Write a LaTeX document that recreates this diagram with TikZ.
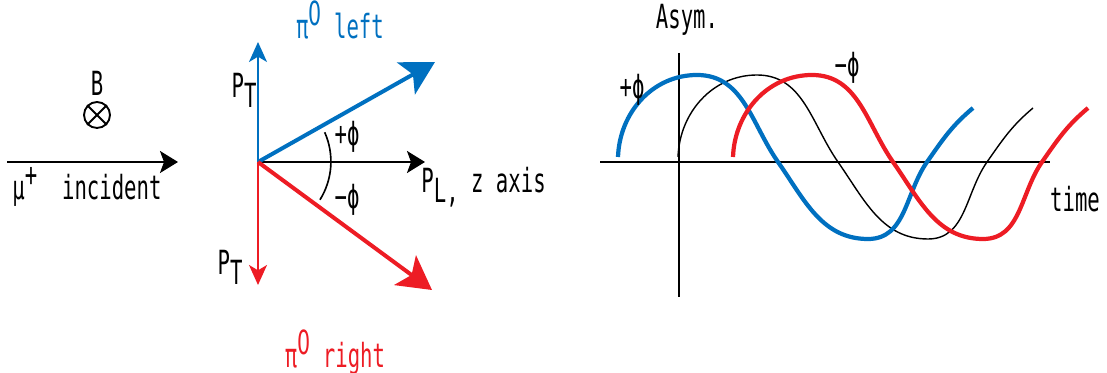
\documentclass[tikz,border=0pt]{standalone}
\usepackage{fontspec}
\setmainfont[FakeStretch=0.62]{DejaVu Sans Mono}
\newfontfamily\digitfont[FakeStretch=0.62]{DejaVu Sans}
\usepackage{xcolor}
\usepackage{tikz}
\usetikzlibrary{arrows.meta}
\definecolor{pileftblue}{RGB}{0, 112, 192}
\definecolor{pirightred}{RGB}{237, 28, 36}
\newcommand{\upr}[1]{\raisebox{0.7ex}{#1}}
\newcommand{\lowr}[1]{\raisebox{-0.55ex}{#1}}
\tikzstyle{lbl} = [inner sep=0pt, font=\fontsize{14.2}{17}\selectfont]
\tikzstyle{fatarrow} = [line width=1.7pt, -{Stealth[length=0.5cm, width=0.55cm, inset=0.12cm]}]
\tikzstyle{thinarrow} = [line width=0.7pt, -{Stealth[length=0.3cm, width=0.27cm, inset=0.08cm]}]
\tikzstyle{axisarrow} = [line width=0.9pt, -{Stealth[length=0.27cm, width=0.33cm, inset=0.06cm]}]
\tikzstyle{wave} = [line width=1.8pt]
\newcommand{\asymwave}[2]{%
  \draw[#1, shift={(#2,211)}] (0,5) to[out=88, in=180] (79,87) to[out=0, in=125] (160,0)
    to[out=-55, in=180] (250,-77) to[out=0, in=235] (309,0) to[out=55, in=220] (355,54);}
\begin{document}
\begin{tikzpicture}[x=0.015cm, y=0.015cm]
    \useasboundingbox (0,0) rectangle (1107,373);

    % Incident muon and field
    \node[lbl] (field) at (97,290) {B};
    \node[circle, draw, line width=0.8pt, minimum size=0.39cm, inner sep=0pt] (bcirc) at (97,258) {};
    \draw[line width=0.8pt] (bcirc.north west) -- (bcirc.south east);
    \draw[line width=0.8pt] (bcirc.north east) -- (bcirc.south west);
    \coordinate (mustart) at (7,211);
    \coordinate (muend) at (178,211);
    \draw[axisarrow] (mustart) -- (muend);
    \node[lbl, anchor=west] (incident) at (12,186) {μ\upr{+}~~incident};

    % Decay momenta
    \coordinate (O) at (258,211);
    \coordinate (ptup) at (258,331);
    \coordinate (ptdown) at (258,88);
    \coordinate (leftend) at (435,311);
    \coordinate (rightend) at (432,83);
    \coordinate (zend) at (425,211);
    \draw[thinarrow, pileftblue] (O) -- (ptup);
    \draw[thinarrow, pirightred] (O) -- (ptdown);
    \draw[axisarrow] (O) -- (zend);
    \draw[fatarrow, pileftblue] (O) -- (leftend);
    \draw[fatarrow, pirightred] (O) -- (rightend);
    \draw[line width=0.7pt] (O) ++(24:73) arc[start angle=24, end angle=-32, radius=72];

    \node[lbl, pileftblue] (pileft) at (340,353) {π\upr{\digitfont 0} left};
    \node[lbl, pirightred] (piright) at (335,21) {π\upr{\digitfont 0} right};
    \node[lbl] (ptuplabel) at (244,283) {P\lowr{T}};
    \node[lbl] (ptdownlabel) at (230,106) {P\lowr{T}};
    \node[lbl, anchor=west] (plz) at (421,186) {P\lowr{L,}~z axis};
    \node[lbl] (plusphi) at (347,236) {+ϕ};
    \node[lbl] (minusphi) at (347,173) {−ϕ};

    % Asymmetry versus time
    \coordinate (tstart) at (600,211);
    \coordinate (tend) at (1050,211);
    \coordinate (atop) at (679,320);
    \coordinate (abottom) at (679,76);
    \draw[line width=1pt] (tstart) -- (tend);
    \draw[line width=1pt] (atop) -- (abottom);
    \asymwave{line width=0.6pt}{678}
    \asymwave{wave, pileftblue}{618}
    \asymwave{wave, pirightred}{733}
    \node[lbl] (asym) at (687,353) {Asym.};
    \node[lbl] (timelabel) at (1075,174) {time};
    \node[lbl] (wplus) at (632,283) {+ϕ};
    \node[lbl] (wminus) at (847,305) {−ϕ};
\end{tikzpicture}
\end{document}
